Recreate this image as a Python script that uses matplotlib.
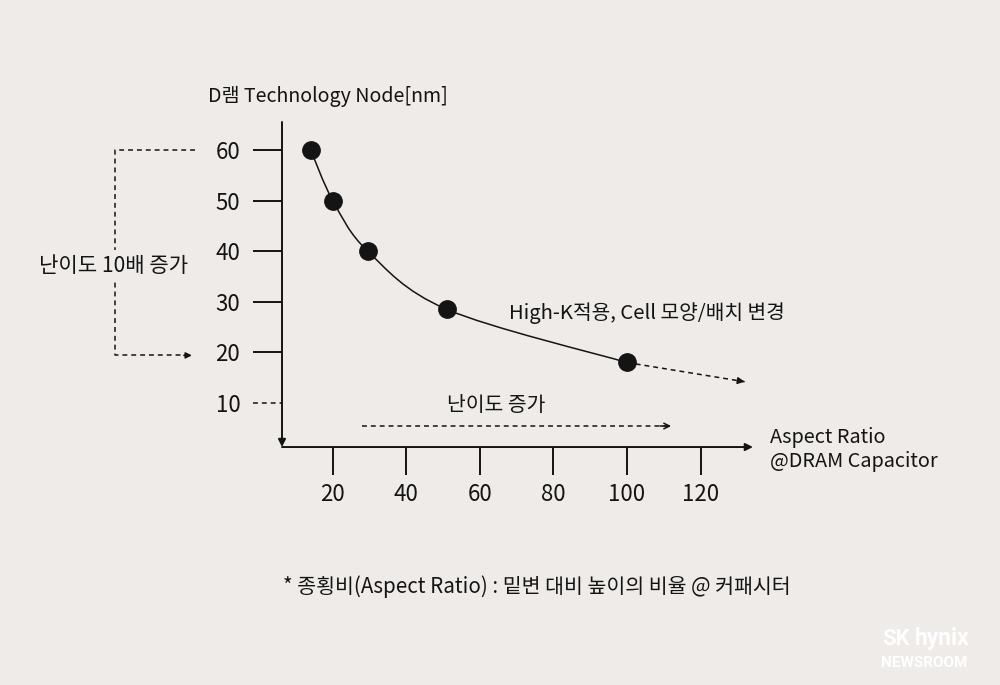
import numpy as np
import matplotlib
matplotlib.use('Agg')
import matplotlib.pyplot as plt
from matplotlib.path import Path
from matplotlib.patches import PathPatch

plt.rcParams['font.family'] = ['Noto Sans CJK KR', 'DejaVu Sans']
plt.rcParams['font.weight'] = 'medium'

# 데이터
aspect_ratio = [14, 20, 29.5, 51, 100]
node_nm = [60, 50, 40, 28.5, 18]
x_ticks = [20, 40, 60, 80, 100, 120]
y_ticks = [10, 20, 30, 40, 50, 60]
trend_end = [132, 14.2]

BG = '#eeebe8'
INK = '#141414'
DASH = (0, (3.2, 2.6))

fig = plt.figure(figsize=(10, 6.85), dpi=100, facecolor=BG)
ax = fig.add_axes([0.282, 0.3474, 0.470, 0.4774])
ax.set_facecolor(BG)
ax.set_xlim(6.2, 134)
ax.set_ylim(1.3, 65.9)
for s in ax.spines.values():
    s.set_visible(False)

# 축 화살표
ax.annotate('', xy=(0, 0), xytext=(0, 0.994), xycoords='axes fraction',
            arrowprops=dict(arrowstyle='-|>', lw=1.4, color=INK,
                            mutation_scale=11, shrinkA=0, shrinkB=0))
ax.annotate('', xy=(1.002, 0), xytext=(0, 0), xycoords='axes fraction',
            arrowprops=dict(arrowstyle='-|>', lw=1.4, color=INK,
                            mutation_scale=11, shrinkA=0, shrinkB=0))

ax.set_xticks(x_ticks)
ax.set_yticks(y_ticks)
ax.tick_params(axis='x', direction='out', length=20, width=1.4, pad=6,
               labelsize=16, colors=INK)
ax.tick_params(axis='y', direction='out', length=21, width=1.4, pad=9,
               labelsize=16, colors=INK)
# 10 눈금은 점선
ax.yaxis.get_major_ticks()[0].tick1line.set_visible(False)
ax.plot([-0.062, 0], [10, 10], transform=ax.get_yaxis_transform(),
        color=INK, lw=1.1, ls=DASH, clip_on=False)

# 곡선 (Catmull-Rom -> Bezier)
pts = np.column_stack([aspect_ratio, node_nm]).astype(float)
verts = [pts[0]]
codes = [Path.MOVETO]
for i in range(len(pts) - 1):
    p0 = pts[max(i - 1, 0)]
    p1 = pts[i]
    p2 = pts[i + 1]
    p3 = pts[min(i + 2, len(pts) - 1)]
    verts += [p1 + (p2 - p0) / 6, p2 - (p3 - p1) / 6, p2]
    codes += [Path.CURVE4] * 3
ax.add_patch(PathPatch(Path(verts, codes), fill=False, lw=1.1, color=INK))
ax.plot(aspect_ratio, node_nm, 'o', ms=12.5, color=INK, zorder=3)

# 추세 점선 화살표
x0, y0 = aspect_ratio[-1], node_nm[-1]
x1, y1 = trend_end
ax.plot([x0, x1], [y0, y1], color=INK, lw=1.1, ls=DASH, clip_on=False)
ax.annotate('', xy=(x1, y1), xytext=(x1 - 0.05 * (x1 - x0), y1 - 0.05 * (y1 - y0)),
            arrowprops=dict(arrowstyle='-|>', lw=1.1, color=INK,
                            mutation_scale=10, shrinkA=0, shrinkB=0))

# 난이도 증가 화살표
ax.plot([28, 111.5], [5.45, 5.45], color=INK, lw=1.1, ls=DASH)
ax.annotate('', xy=(112, 5.45), xytext=(109, 5.45),
            arrowprops=dict(arrowstyle='->', lw=1.1, color=INK,
                            mutation_scale=10, shrinkA=0, shrinkB=0))
ax.text(64.4, 9.5, '난이도 증가', ha='center', va='center', fontsize=14.7, color=INK)

ax.text(67.9, 27.8, 'High-K적용, Cell 모양/배치 변경', ha='left', va='center',
        fontsize=14.6, color=INK)

# 왼쪽 괄호
ax.plot([-17.4, -39.1, -39.1, -19.5], [60, 60, 19.4, 19.4], color=INK, lw=1.1,
        ls=DASH, clip_on=False)
ax.annotate('', xy=(-18.3, 19.4), xytext=(-20.5, 19.4), annotation_clip=False,
            arrowprops=dict(arrowstyle='-|>', lw=1.1, color=INK,
                            mutation_scale=9, shrinkA=0, shrinkB=0))
ax.text(-39.5, 37.1, '난이도 10배 증가', ha='center', va='center', fontsize=15.2,
        color=INK, clip_on=False,
        bbox=dict(boxstyle='square,pad=0.25', fc=BG, ec='none'))

# 제목/축 이름
fig.text(0.208, 1 - 96 / 685, 'D램 Technology Node[nm]', ha='left', va='center',
         fontsize=14.1, color=INK)
fig.text(0.770, 1 - 437 / 685, 'Aspect Ratio', ha='left', va='center',
         fontsize=14.3, color=INK)
fig.text(0.770, 1 - 461 / 685, '@DRAM Capacitor', ha='left', va='center',
         fontsize=14.3, color=INK)

fig.text(0.5365, 1 - 587 / 685, '* 종횡비(Aspect Ratio) : 밑변 대비 높이의 비율 @ 커패시터',
         ha='center', va='center', fontsize=14.8, color=INK)

# 로고
fig.text(0.882, 1 - 645 / 685, 'SK', ha='left', va='baseline', fontsize=16,
         fontweight='bold', color='white', family=['Roboto'])
fig.text(0.915, 1 - 645 / 685, 'hynix', ha='left', va='baseline', fontsize=16.5,
         fontweight='bold', color='white', family=['Roboto'])
fig.text(0.881, 1 - 667 / 685, 'NEWSROOM', ha='left', va='baseline', fontsize=11,
         fontweight='bold', color='white', family=['Roboto'])

fig.savefig('out.png', dpi=100, facecolor=BG)
